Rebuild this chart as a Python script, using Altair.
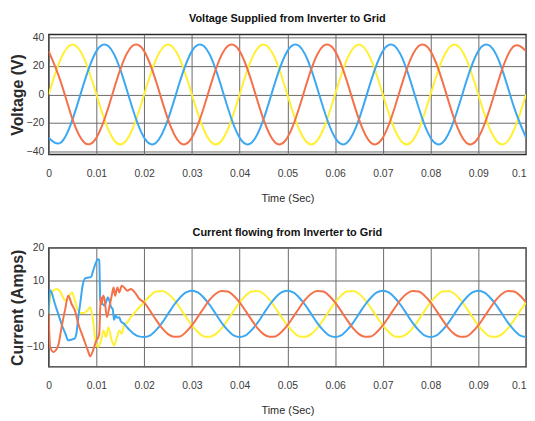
import altair as alt
import pandas as pd

PHASES = ["Phase A", "Phase B", "Phase C"]
COLORS = ["#FFF033", "#3DA8F2", "#F4714A"]

X_TICKS = [0, 0.01, 0.02, 0.03, 0.04, 0.05, 0.06, 0.07, 0.08, 0.09, 0.1]

# ---------------- Voltage panel ----------------
t_volt = [0.0, 0.0025, 0.005, 0.0075, 0.01, 0.0125, 0.015, 0.0175,
          0.02, 0.0225, 0.025, 0.0275, 0.03, 0.0325, 0.035, 0.0375,
          0.04, 0.0425, 0.045, 0.0475, 0.05, 0.0525, 0.055, 0.0575,
          0.06, 0.0625, 0.065, 0.0675, 0.07, 0.0725, 0.075, 0.0775,
          0.08, 0.0825, 0.085, 0.0875, 0.09, 0.0925, 0.095, 0.0975, 0.1]
volt_yellow = [0, 24.7, 35, 24.7, 0, -24.7, -35, -24.7,
               0, 24.7, 35, 24.7, 0, -24.7, -35, -24.7,
               0, 24.7, 35, 24.7, 0, -24.7, -35, -24.7,
               0, 24.7, 35, 24.7, 0, -24.7, -35, -24.7,
               0, 24.7, 35, 24.7, 0, -24.7, -35, -24.7, 0]
volt_blue = [-30.3, -33.8, -17.5, 9.1, 30.3, 33.8, 17.5, -9.1,
             -30.3, -33.8, -17.5, 9.1, 30.3, 33.8, 17.5, -9.1,
             -30.3, -33.8, -17.5, 9.1, 30.3, 33.8, 17.5, -9.1,
             -30.3, -33.8, -17.5, 9.1, 30.3, 33.8, 17.5, -9.1,
             -30.3, -33.8, -17.5, 9.1, 30.3, 33.8, 17.5, -9.1, -30.3]
volt_red = [30.3, 9.1, -17.5, -33.8, -30.3, -9.1, 17.5, 33.8,
            30.3, 9.1, -17.5, -33.8, -30.3, -9.1, 17.5, 33.8,
            30.3, 9.1, -17.5, -33.8, -30.3, -9.1, 17.5, 33.8,
            30.3, 9.1, -17.5, -33.8, -30.3, -9.1, 17.5, 33.8,
            30.3, 9.1, -17.5, -33.8, -30.3, -9.1, 17.5, 33.8, 30.3]

# ---------------- Current panel: start-up transient ----------------
t_cur_yellow_start = [0.0, 0.0003, 0.0009, 0.0017, 0.0025, 0.0032, 0.0037, 0.0043,
                      0.0049, 0.0054, 0.006, 0.0067, 0.0074, 0.0081, 0.0087, 0.0092,
                      0.0098, 0.0103, 0.011, 0.0115, 0.012, 0.0125, 0.0132, 0.0137,
                      0.0143, 0.0148, 0.0153, 0.0158, 0.0165, 0.0172, 0.0181, 0.0190]
cur_yellow_start = [0, 5, 7, 7.5, 6.5, 4.5, 4, 5.5,
                    6.5, 4.5, 1.5, 0.3, 0.3, 1, 2, -1,
                    -8, -10, -8, -5, -7, -4, -8, -9.5,
                    -7, -5, -6, -3.5, -2.5, -1, 0.5, 2]

t_cur_blue_start = [0.0, 0.00025, 0.0006, 0.0012, 0.002, 0.0028, 0.0035, 0.0041,
                    0.0046, 0.0054, 0.0058, 0.0062, 0.0066, 0.0071, 0.0077, 0.0084,
                    0.0089, 0.0093, 0.0099, 0.0103, 0.0106, 0.0108, 0.0113, 0.0117,
                    0.012, 0.0124, 0.0127, 0.0131, 0.0134, 0.0137, 0.014, 0.0144,
                    0.0148, 0.0151, 0.0158, 0.0165, 0.0172, 0.018, 0.0189]
cur_blue_start = [0, 7.2, 6.5, 3.5, 0, -3.5, -6, -8,
                  -7.8, -7.5, -6, -1, 3, 8.5, 10.8, 11,
                  11.2, 13, 15.5, 16.5, 16.3, 4, 3, 2.5,
                  3.5, 5, 4, 2, 1.5, -1.8, -0.5, -1.2,
                  -1, -2.2, -3, -4.2, -5.2, -6.2, -6.8]

t_cur_red_start = [0.0, 0.0003, 0.001, 0.0015, 0.0021, 0.0027, 0.0034, 0.0041,
                   0.0048, 0.0055, 0.0062, 0.0072, 0.0082, 0.0087, 0.0093, 0.01,
                   0.0104, 0.0106, 0.0109, 0.0111, 0.0114, 0.0117, 0.0122, 0.0127,
                   0.0132, 0.0136, 0.0139, 0.0144, 0.0148, 0.0153, 0.0158, 0.0165,
                   0.0172, 0.0182, 0.019]
cur_red_start = [0, -10, -11.5, -11, -9, -4, 1, 5.5,
                 3, 1, -3, -7, -11, -12.8, -11, -8,
                 -7, -6, 5, 3, 5.5, 4.5, -1, 2,
                 5.5, 8, 5.5, 8, 6.5, 8.5, 8, 7,
                 7.5, 6.2, 4.5]

# ---------------- Current panel: steady state ----------------
t_cur_steady = [0.02, 0.02125, 0.0225, 0.02375, 0.025, 0.02625, 0.0275, 0.02875,
                0.03, 0.03125, 0.0325, 0.03375, 0.035, 0.03625, 0.0375, 0.03875,
                0.04, 0.04125, 0.0425, 0.04375, 0.045, 0.04625, 0.0475, 0.04875,
                0.05, 0.05125, 0.0525, 0.05375, 0.055, 0.05625, 0.0575, 0.05875,
                0.06, 0.06125, 0.0625, 0.06375, 0.065, 0.06625, 0.0675, 0.06875,
                0.07, 0.07125, 0.0725, 0.07375, 0.075, 0.07625, 0.0775, 0.07875,
                0.08, 0.08125, 0.0825, 0.08375, 0.085, 0.08625, 0.0875, 0.08875,
                0.09, 0.09125, 0.0925, 0.09375, 0.095, 0.09625, 0.0975, 0.09875,
                0.1]
cur_yellow_steady = [3.5, 5.5, 6.8, 6.9, 6.1, 4.3, 1.8, -0.9, -3.5, -5.5, -6.8, -6.9, -6.1, -4.3, -1.8, 0.9,
                     3.5, 5.5, 6.8, 6.9, 6.1, 4.3, 1.8, -0.9, -3.5, -5.5, -6.8, -6.9, -6.1, -4.3, -1.8, 0.9,
                     3.5, 5.5, 6.8, 6.9, 6.1, 4.3, 1.8, -0.9, -3.5, -5.5, -6.8, -6.9, -6.1, -4.3, -1.8, 0.9,
                     3.5, 5.5, 6.8, 6.9, 6.1, 4.3, 1.8, -0.9, -3.5, -5.5, -6.8, -6.9, -6.1, -4.3, -1.8, 0.9,
                     3.5]
cur_blue_steady = [-7, -6.5, -4.9, -2.7, 0, 2.7, 4.9, 6.5, 7, 6.5, 4.9, 2.7, 0, -2.7, -4.9, -6.5,
                   -7, -6.5, -4.9, -2.7, 0, 2.7, 4.9, 6.5, 7, 6.5, 4.9, 2.7, 0, -2.7, -4.9, -6.5,
                   -7, -6.5, -4.9, -2.7, 0, 2.7, 4.9, 6.5, 7, 6.5, 4.9, 2.7, 0, -2.7, -4.9, -6.5,
                   -7, -6.5, -4.9, -2.7, 0, 2.7, 4.9, 6.5, 7, 6.5, 4.9, 2.7, 0, -2.7, -4.9, -6.5,
                   -7]
cur_red_steady = [3.5, 0.9, -1.8, -4.3, -6.1, -6.9, -6.8, -5.5, -3.5, -0.9, 1.8, 4.3, 6.1, 6.9, 6.8, 5.5,
                  3.5, 0.9, -1.8, -4.3, -6.1, -6.9, -6.8, -5.5, -3.5, -0.9, 1.8, 4.3, 6.1, 6.9, 6.8, 5.5,
                  3.5, 0.9, -1.8, -4.3, -6.1, -6.9, -6.8, -5.5, -3.5, -0.9, 1.8, 4.3, 6.1, 6.9, 6.8, 5.5,
                  3.5, 0.9, -1.8, -4.3, -6.1, -6.9, -6.8, -5.5, -3.5, -0.9, 1.8, 4.3, 6.1, 6.9, 6.8, 5.5,
                  3.5]


def frame(ts, vs, phase):
    return pd.DataFrame({"t": ts, "v": vs, "phase": phase})


volt_df = pd.concat([
    frame(t_volt, volt_yellow, PHASES[0]),
    frame(t_volt, volt_blue, PHASES[1]),
    frame(t_volt, volt_red, PHASES[2]),
], ignore_index=True)

cur_df = pd.concat([
    frame(t_cur_yellow_start + t_cur_steady, cur_yellow_start + cur_yellow_steady, PHASES[0]),
    frame(t_cur_blue_start + t_cur_steady, cur_blue_start + cur_blue_steady, PHASES[1]),
    frame(t_cur_red_start + t_cur_steady, cur_red_start + cur_red_steady, PHASES[2]),
], ignore_index=True)

FONT = "Liberation Sans, Arial, sans-serif"


def panel(df, title, ytitle, ydomain, yticks, interp, h, title_offset):
    return alt.Chart(df).mark_line(interpolate=interp, strokeWidth=2, clip=True).encode(
        x=alt.X("t:Q",
                scale=alt.Scale(domain=[0, 0.1], nice=False, zero=False),
                axis=alt.Axis(values=X_TICKS, format=".2~f", title="Time (Sec)",
                              labelPadding=14, titlePadding=14,
                              labelAlign={"expr": "datum.value >= 0.099 ? 'right' : 'center'"})),
        y=alt.Y("v:Q",
                scale=alt.Scale(domain=ydomain, nice=False, zero=False),
                axis=alt.Axis(values=yticks, title=ytitle, labelPadding=5, titlePadding=1)),
        color=alt.Color("phase:N", scale=alt.Scale(domain=PHASES, range=COLORS), legend=None),
    ).properties(
        width=481, height=h,
        title=alt.TitleParams(title, font=FONT, fontSize=11, fontWeight="bold",
                              color="#111111", offset=title_offset, anchor="middle"),
    )


top = panel(volt_df, "Voltage Supplied from Inverter to Grid", "Voltage (V)",
            [-42, 42], [-40, -20, 0, 20, 40], "natural", 121, 8)
bottom = panel(cur_df, "Current flowing from Inverter to Grid", "Current (Amps)",
               [-16, 20], [-10, 0, 10, 20], "monotone", 120, 5)

chart = alt.vconcat(top, bottom, spacing=21).properties(
    padding={"left": 0, "top": 3, "right": 0, "bottom": 2},
    background="white",
).configure_view(
    stroke="#2b2b2b", strokeWidth=1.4,
).configure_axis(
    domain=False, ticks=False, tickSize=0,
    grid=True, gridColor="#6a6a6a", gridWidth=1,
    labelFont=FONT, labelFontSize=10.5, labelColor="#3c3c3c",
    titleColor="#2a2a2a",
).configure_axisX(
    titleFont=FONT, titleFontSize=11, titleFontWeight="normal",
).configure_axisY(
    titleFont=FONT, titleFontSize=16, titleFontWeight="bold",
)

chart.save("out.html", embed_options={"renderer": "svg", "actions": False})
